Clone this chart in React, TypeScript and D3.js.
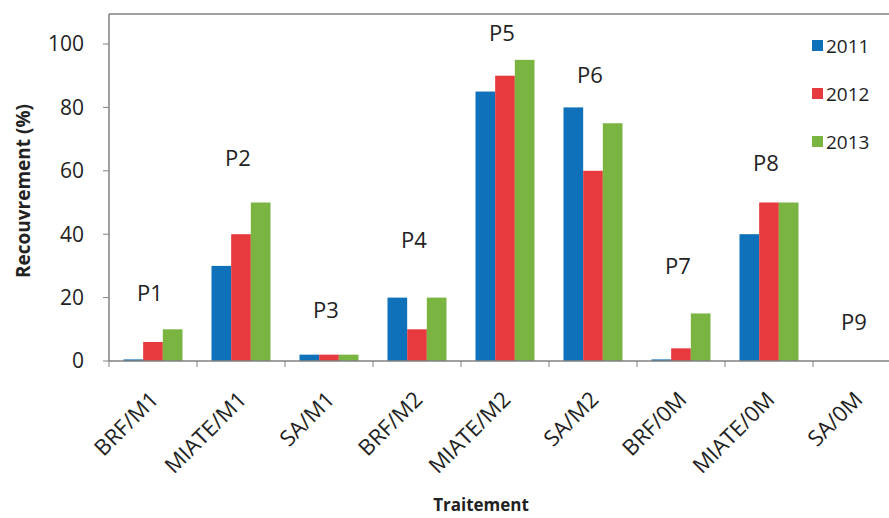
import React from "react";
import * as d3 from "d3";

const categories = ["BRF/M1", "MIATE/M1", "SA/M1", "BRF/M2", "MIATE/M2", "SA/M2", "BRF/0M", "MIATE/0M", "SA/0M"];
const years = ["2011", "2012", "2013"];
const values2011 = [0.5, 30, 2, 20, 85, 80, 0.5, 40, 0];
const values2012 = [6, 40, 2, 10, 90, 60, 4, 50, 0];
const values2013 = [10, 50, 2, 20, 95, 75, 15, 50, 0];
const plotLabels = ["P1", "P2", "P3", "P4", "P5", "P6", "P7", "P8", "P9"];
const plotLabelY = [21.5, 64, 16, 38, 103.5, 90, 30, 62.5, 12.3];
const yTicks = [0, 20, 40, 60, 80, 100];
const colors = ["#0F71B9", "#E63A3E", "#7AB441"];

const W = 889, H = 518;
const left = 109, right = 901, top = 14, bottom = 361;
const font = "'Open Sans', sans-serif";

export default function App() {
  const series = [values2011, values2012, values2013];
  const x = d3.scaleBand<string>().domain(categories).range([left, right]);
  const y = d3.scaleLinear().domain([0, 100]).range([bottom, bottom - 317]);
  const innerScale = d3.scaleBand<string>().domain(years).range([14.5, x.bandwidth() - 14.5]);
  return (
    <svg width={W} height={H} style={{ position: "absolute", left: 0, top: 0, background: "#fff" }} fontFamily={font}>
      <rect x={0} y={0} width={W} height={H} fill="#fff" />
      {/* frame */}
      <line x1={left} x2={W} y1={top} y2={top} stroke="#808080" strokeWidth={1.5} />
      <line x1={left} x2={left} y1={top} y2={bottom} stroke="#808080" strokeWidth={1.5} />
      {/* bars */}
      {series.map((vals, si) =>
        vals.map((v, i) => (
          <rect
            key={`${si}-${i}`}
            x={(x(categories[i]) as number) + (innerScale(years[si]) as number)}
            width={innerScale.bandwidth()}
            y={y(v)}
            height={bottom - y(v)}
            fill={colors[si]}
          />
        ))
      )}
      {/* x axis */}
      <line x1={left} x2={W} y1={bottom} y2={bottom} stroke="#808080" strokeWidth={1.5} />
      {categories.map((c) => (
        <line key={c} x1={(x(c) as number)} x2={(x(c) as number)} y1={bottom} y2={bottom + 6} stroke="#808080" />
      ))}
      {categories.map((c) => {
        const cx = (x(c) as number) + x.bandwidth() / 2 - 4;
        const cy = bottom + 29;
        return (
          <text key={c} transform={`translate(${cx},${cy}) rotate(-45)`} textAnchor="end" dy="0.7em" fontSize={22} fill="#222">
            {c}
          </text>
        );
      })}
      {/* y axis */}
      {yTicks.map((t) => (
        <g key={t}>
          <line x1={left - 6} x2={left} y1={y(t)} y2={y(t)} stroke="#808080" />
          <text x={left - 25} y={y(t)} dy="0.35em" textAnchor="end" fontSize={21} fill="#222">
            {t}
          </text>
        </g>
      ))}
      {/* plot labels */}
      {plotLabels.map((p, i) => (
        <text key={p} x={(x(categories[i]) as number) + x.bandwidth() / 2 - 3} y={y(plotLabelY[i])} dy="0.35em" textAnchor="middle" fontSize={22} fill="#222">
          {p}
        </text>
      ))}
      {/* legend */}
      {years.map((yr, i) => (
        <g key={yr}>
          <rect x={812} y={40 + i * 48} width={11} height={11} fill={colors[i]} />
          <text x={826} y={46 + i * 48} dy="0.35em" fontSize={19} fill="#222">
            {yr}
          </text>
        </g>
      ))}
      {/* axis titles */}
      <text transform={`translate(23,191) rotate(-90)`} textAnchor="middle" dy="0.35em" fontSize={19} fontWeight="bold" fill="#222">
        Recouvrement (%)
      </text>
      <text x={481} y={505} textAnchor="middle" dy="0.35em" fontSize={17} fontWeight="bold" fill="#222">
        Traitement
      </text>
    </svg>
  );
}
